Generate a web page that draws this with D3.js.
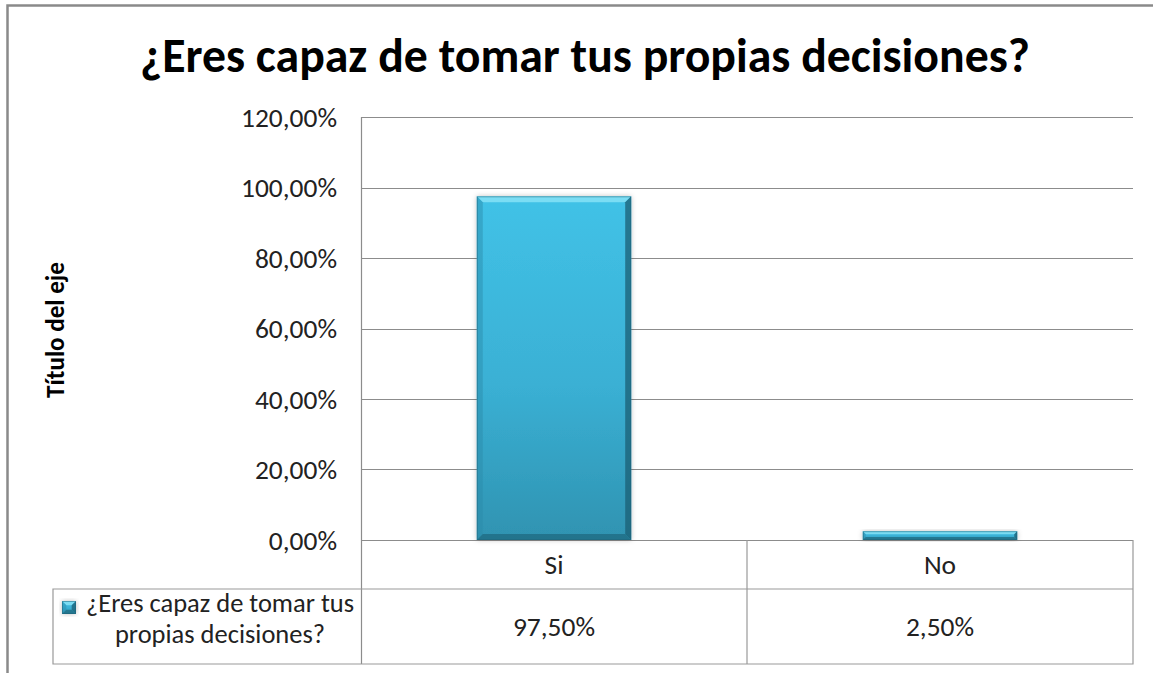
<!DOCTYPE html>
<html>
<head>
<meta charset="utf-8">
<script src="https://cdn.jsdelivr.net/npm/d3@7"></script>
<style>
  html, body { margin: 0; padding: 0; background: #fff; }
  svg { display: block; font-family: Carlito, Calibri, Lato, "Open Sans", sans-serif; }
</style>
</head>
<body>
<div id="app"></div>
<script>
// chart data
var chartTitle = '¿Eres capaz de tomar tus propias decisiones?'
var axisTitle = 'Título del eje'
var seriesName = '¿Eres capaz de tomar tus propias decisiones?'
var categories = ['Si', 'No']
var values = [0.975, 0.025]
var yTicks = [0, 0.2, 0.4, 0.6, 0.8, 1.0, 1.2]

var width = 1153
var height = 673

var esLocale = d3.formatLocale({ decimal: ',', thousands: '.', grouping: [3], currency: ['', ' €'], percent: '%' })
var pct = esLocale.format('.2%')

var svg = d3.select('#app').append('svg')
	.attr('width', width)
	.attr('height', height)

var defs = svg.append('defs')

var barGrad = defs.append('linearGradient').attr('id', 'barGrad')
	.attr('x1', 0).attr('y1', 0).attr('x2', 0).attr('y2', 1)
barGrad.append('stop').attr('offset', '0%').attr('stop-color', '#41c2e7')
barGrad.append('stop').attr('offset', '55%').attr('stop-color', '#3ab0d4')
barGrad.append('stop').attr('offset', '100%').attr('stop-color', '#2f93b1')

var shadow = defs.append('filter').attr('id', 'shadow')
	.attr('x', '-20%').attr('y', '-20%').attr('width', '140%').attr('height', '140%')
shadow.append('feDropShadow').attr('dx', 0).attr('dy', 0)
	.attr('stdDeviation', 2.5).attr('flood-color', '#000').attr('flood-opacity', 0.25)

// helper: scale font so text spans a given width
function fitText(sel, target) {
	var size = parseFloat(sel.style('font-size'))
	var len = sel.node().getComputedTextLength()
	sel.style('font-size', (size * target / len) + 'px')
}

// outer frame
svg.append('path')
	.attr('d', 'M7.5,673 L7.5,5.5 L1153,5.5')
	.attr('fill', 'none')
	.attr('stroke', '#8a8a8a')
	.attr('stroke-width', 2.5)

// plot geometry
var plot = { left: 361, right: 1133, top: 117, bottom: 540 }
var table = { left: 53, rowMid: 589, bottom: 664 }

var x = d3.scaleBand()
	.domain(categories)
	.range([plot.left, plot.right])
	.paddingInner(0.6)
	.paddingOuter(0.3)

var xCol = d3.scaleBand()
	.domain(categories)
	.range([plot.left, plot.right])

var y = d3.scaleLinear()
	.domain([0, 1.2])
	.range([plot.bottom, plot.top])

// gridlines
svg.append('g').selectAll('line')
	.data(yTicks)
	.enter().append('line')
	.attr('x1', plot.left)
	.attr('x2', plot.right)
	.attr('y1', function(d) { return Math.round(y(d)) + 0.5 })
	.attr('y2', function(d) { return Math.round(y(d)) + 0.5 })
	.attr('stroke', '#8c8c8c')
	.attr('stroke-width', 1.2)

// y axis line
svg.append('line')
	.attr('x1', plot.left + 0.5).attr('x2', plot.left + 0.5)
	.attr('y1', plot.top).attr('y2', table.bottom)
	.attr('stroke', '#8c8c8c').attr('stroke-width', 1.2)

// y tick labels
var tickLabels = svg.append('g').selectAll('text')
	.data(yTicks)
	.enter().append('text')
	.attr('x', plot.left - 24)
	.attr('y', function(d) { return y(d) })
	.attr('dy', '0.35em')
	.attr('text-anchor', 'end')
	.attr('fill', '#222')
	.style('font-size', '20px')
	.text(function(d) { return pct(d) })

// size the base font from the widest tick label
var probe = tickLabels.filter(function(d) { return d === 1.2 })
fitText(probe, 96)
var baseSize = probe.style('font-size')
tickLabels.style('font-size', baseSize)

// bars with bevel
function bevelBar(g, x0, y0, w, h) {
	var b = Math.min(6, h / 3)
	g.append('rect')
		.attr('x', x0).attr('y', y0).attr('width', w).attr('height', h)
		.attr('fill', 'url(#barGrad)')
		.attr('filter', 'url(#shadow)')
	// top highlight
	g.append('path')
		.attr('d', 'M' + x0 + ',' + y0 + 'L' + (x0 + w) + ',' + y0 + 'L' + (x0 + w - b) + ',' + (y0 + b) + 'L' + (x0 + b) + ',' + (y0 + b) + 'Z')
		.attr('fill', '#86e2f6').attr('opacity', 0.85)
	// left edge
	g.append('path')
		.attr('d', 'M' + x0 + ',' + y0 + 'L' + (x0 + b) + ',' + (y0 + b) + 'L' + (x0 + b) + ',' + (y0 + h - b) + 'L' + x0 + ',' + (y0 + h) + 'Z')
		.attr('fill', '#2a8aa8').attr('opacity', 0.45)
	// right edge
	g.append('path')
		.attr('d', 'M' + (x0 + w) + ',' + y0 + 'L' + (x0 + w - b) + ',' + (y0 + b) + 'L' + (x0 + w - b) + ',' + (y0 + h - b) + 'L' + (x0 + w) + ',' + (y0 + h) + 'Z')
		.attr('fill', '#1b5f74').attr('opacity', 0.75)
	// bottom shade
	g.append('path')
		.attr('d', 'M' + x0 + ',' + (y0 + h) + 'L' + (x0 + w) + ',' + (y0 + h) + 'L' + (x0 + w - b) + ',' + (y0 + h - b) + 'L' + (x0 + b) + ',' + (y0 + h - b) + 'Z')
		.attr('fill', '#1f6980').attr('opacity', 0.75)
	g.append('rect')
		.attr('x', x0 + 0.5).attr('y', y0 + 0.5).attr('width', w - 1).attr('height', h - 1)
		.attr('fill', 'none').attr('stroke', '#1e6278').attr('stroke-opacity', 0.5)
}

var barsG = svg.append('g')
categories.forEach(function(c, i) {
	var g = barsG.append('g')
	bevelBar(g, x(c), y(values[i]), x.bandwidth(), y(0) - y(values[i]))
})

// data table
var tableG = svg.append('g').attr('stroke', '#999').attr('stroke-width', 1.2).attr('fill', 'none')
tableG.append('path')
	.attr('d', 'M' + plot.right + ',' + plot.bottom + 'L' + plot.right + ',' + table.bottom +
		'L' + table.left + ',' + table.bottom + 'L' + table.left + ',' + table.rowMid +
		'L' + plot.right + ',' + table.rowMid)
tableG.selectAll('.col')
	.data(categories.slice(1))
	.enter().append('line')
	.attr('x1', function(d) { return xCol(d) }).attr('x2', function(d) { return xCol(d) })
	.attr('y1', plot.bottom).attr('y2', table.bottom)

// category labels
svg.append('g').selectAll('text')
	.data(categories)
	.enter().append('text')
	.attr('x', function(d) { return xCol(d) + xCol.bandwidth() / 2 })
	.attr('y', (plot.bottom + table.rowMid) / 2)
	.attr('dy', '0.35em')
	.attr('text-anchor', 'middle')
	.attr('fill', '#222')
	.style('font-size', baseSize)
	.text(function(d) { return d })

// values row
svg.append('g').selectAll('text')
	.data(values)
	.enter().append('text')
	.attr('x', function(d, i) { return xCol(categories[i]) + xCol.bandwidth() / 2 })
	.attr('y', (table.rowMid + table.bottom) / 2)
	.attr('dy', '0.35em')
	.attr('text-anchor', 'middle')
	.attr('fill', '#222')
	.style('font-size', baseSize)
	.text(function(d) { return pct(d) })

// legend key in the table
var keyG = svg.append('g')
bevelBar(keyG, 62, 601, 14, 13)
var words = seriesName.split(' ')
var legendLines = [words.slice(0, 5).join(' '), words.slice(5).join(' ')]
var legendText = svg.append('g').selectAll('text')
	.data(legendLines)
	.enter().append('text')
	.attr('x', 220)
	.attr('y', function(d, i) { return 612 + i * 31 })
	.attr('text-anchor', 'middle')
	.attr('fill', '#222')
	.style('font-size', baseSize)
	.text(function(d) { return d })
var legendFirst = legendText.filter(function(d, i) { return i === 0 })
fitText(legendFirst, 268)
legendText.style('font-size', legendFirst.style('font-size'))

// title
var title = svg.append('text')
	.attr('x', 585)
	.attr('y', 72)
	.attr('text-anchor', 'middle')
	.attr('fill', '#000')
	.style('font-size', '40px')
	.style('font-weight', 'bold')
	.text(chartTitle)
fitText(title, 890)

// axis title
var yTitle = svg.append('text')
	.attr('transform', 'translate(64,' + 330 + ') rotate(-90)')
	.attr('text-anchor', 'middle')
	.attr('fill', '#000')
	.style('font-size', '20px')
	.style('font-weight', 'bold')
	.text(axisTitle)
fitText(yTitle, 136)
</script>
</body>
</html>
